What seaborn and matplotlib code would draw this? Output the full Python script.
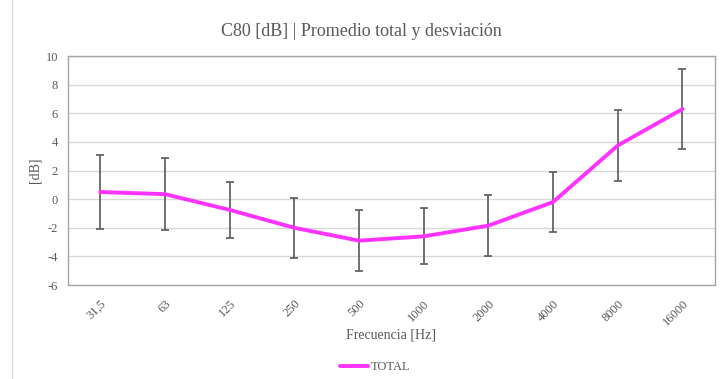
import matplotlib
matplotlib.use("Agg")
import matplotlib.pyplot as plt
import seaborn as sns
import pandas as pd
import numpy as np

categories = ["31,5", "63", "125", "250", "500", "1000", "2000", "4000", "8000", "16000"]
mean_db = [0.5, 0.35, -0.75, -2.0, -2.9, -2.6, -1.85, -0.2, 3.75, 6.3]
std_db = [2.6, 2.5, 1.95, 2.1, 2.15, 1.95, 2.15, 2.1, 2.5, 2.8]

sns.set_theme(style="white")
plt.rcParams['font.family'] = ['Liberation Serif', 'DejaVu Serif']
plt.rcParams['axes.unicode_minus'] = False

df = pd.DataFrame({"freq": categories, "mean": mean_db, "std": std_db})

fig = plt.figure(figsize=(7.22, 3.79), dpi=100)
ax = fig.add_axes([0.094, 0.248, 0.896, 0.604])

txt = "#595959"
x = np.arange(len(categories))
ax.errorbar(x, df["mean"], yerr=df["std"], fmt="none", ecolor="#595959",
            elinewidth=1.2, capsize=3, capthick=1.2, zorder=2)
sns.lineplot(data=df, x="freq", y="mean", ax=ax, color="#ff33ff", linewidth=2.8,
             sort=False, label="TOTAL", zorder=3)

ax.set_xlim(-0.5, len(categories) - 0.5)
ax.set_ylim(-6, 10)
ax.set_yticks(range(-6, 11, 2))
ax.set_xticks(x)
ax.set_xticklabels(categories, rotation=45, ha="right", rotation_mode="anchor")
ax.tick_params(axis="both", labelsize=9, colors=txt, length=0)
ax.tick_params(axis="x", pad=9)
ax.tick_params(axis="y", pad=7)
ax.grid(axis="y", color="#d9d9d9", linewidth=1)
ax.set_axisbelow(True)
for s in ax.spines.values():
    s.set_color("#a6a6a6")
    s.set_linewidth(1)

ax.set_xlabel("Frecuencia [Hz]", fontsize=10, color=txt, labelpad=0)
ax.set_ylabel("[dB]", fontsize=10, color=txt, labelpad=3)
fig.suptitle("C80 [dB] | Promedio total y desviación", fontsize=13, color=txt,
             y=0.918, va="center")

leg = ax.legend(loc="center", bbox_to_anchor=(0.475, -0.36), frameon=False,
                fontsize=9, handlelength=2.2, handletextpad=0.2)
for t in leg.get_texts():
    t.set_color(txt)

fig.add_artist(plt.Line2D([0.017, 0.017], [0, 1], color="#d9d9d9", linewidth=1,
                          transform=fig.transFigure))

fig.savefig("out.png", dpi=100, facecolor="white")
